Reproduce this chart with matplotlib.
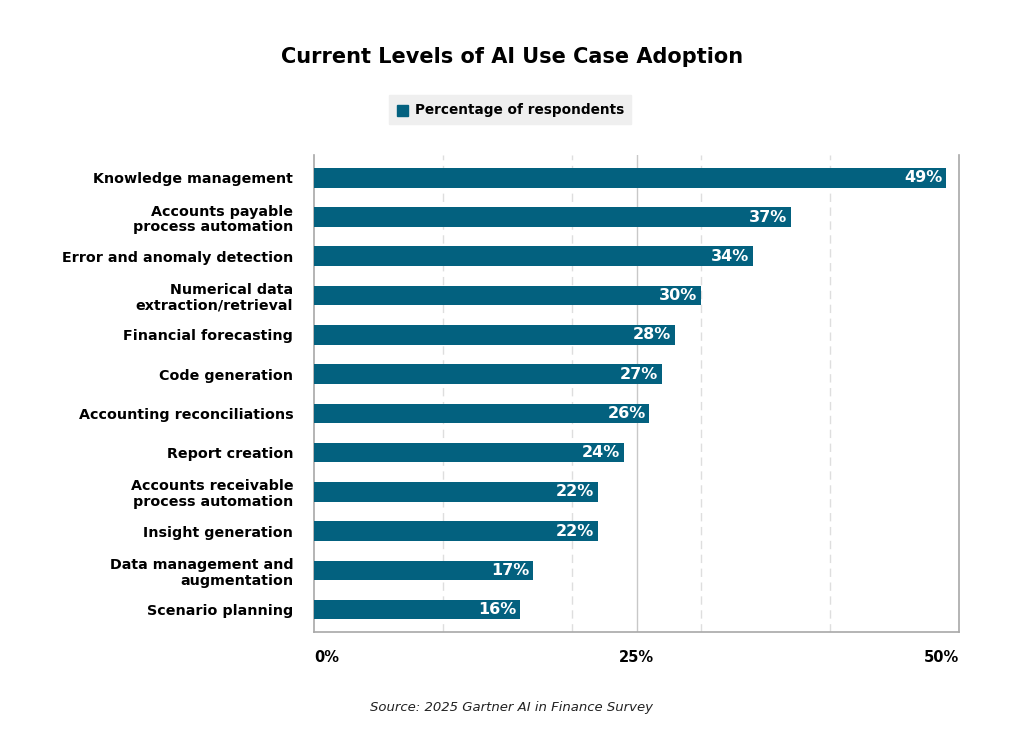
import matplotlib
matplotlib.use("Agg")
import matplotlib.pyplot as plt
from matplotlib.patches import Rectangle

categories = [
    "Knowledge management",
    "Accounts payable\nprocess automation",
    "Error and anomaly detection",
    "Numerical data\nextraction/retrieval",
    "Financial forecasting",
    "Code generation",
    "Accounting reconciliations",
    "Report creation",
    "Accounts receivable\nprocess automation",
    "Insight generation",
    "Data management and\naugmentation",
    "Scenario planning",
]
values = [49, 37, 34, 30, 28, 27, 26, 24, 22, 22, 17, 16]
tick_values = [0, 25, 50]
tick_labels = ["0%", "25%", "50%"]

bar_color = "#03617f"
plt.rcParams["font.family"] = ["DejaVu Sans"]

fig = plt.figure(figsize=(10.24, 7.42), dpi=100)
ax = fig.add_axes([314 / 1024, 1 - 632 / 742, 645 / 1024, 477 / 742])

y = list(range(len(categories)))
ax.barh(y, values, height=0.5, color=bar_color, zorder=3)
for yi, v in zip(y, values):
    ax.text(v - 0.3, yi, f"{v}%", ha="right", va="center", color="white",
            fontsize=11.5, fontweight="bold", zorder=4)

ax.set_xlim(0, 50)
ax.set_ylim(len(categories) - 0.43, -0.58)
ax.set_yticks(y)
ax.set_yticklabels(categories, fontsize=10.3, fontweight="bold", linespacing=1.15)
ax.tick_params(axis="y", length=0, pad=15)

# x tick labels drawn below the axis
ax.set_xticks([])
for t, lab in zip(tick_values, tick_labels):
    ha = "left" if t == 0 else ("right" if t == 50 else "center")
    ax.text(t, len(categories) + 0.22, lab, ha=ha, va="center", fontsize=10.5,
            fontweight="bold")

# grid lines
for g in [10, 20, 30, 40]:
    ax.axvline(g, color="#dedede", lw=1, ls=(0, (6, 4)), zorder=1)
ax.axvline(25, color="#c8c8c8", lw=1, zorder=1)

ax.spines["top"].set_visible(False)
for side in ["left", "right", "bottom"]:
    ax.spines[side].set_color("#a8a8a8")
    ax.spines[side].set_linewidth(1.2)

fig.text(512 / 1024, 1 - 57 / 742, "Current Levels of AI Use Case Adoption",
         ha="center", va="center", fontsize=15, fontweight="bold")

# legend
fig.patches.append(Rectangle((389 / 1024, 1 - 124 / 742), 242 / 1024, 29 / 742,
                             transform=fig.transFigure, color="#efefef", zorder=0))
fig.patches.append(Rectangle((397 / 1024, 1 - 116 / 742), 11 / 1024, 11 / 742,
                             transform=fig.transFigure, color=bar_color, zorder=1))
fig.text(415 / 1024, 1 - 110 / 742, "Percentage of respondents", ha="left",
         va="center", fontsize=9.8, fontweight="bold")

fig.text(512 / 1024, 1 - 707 / 742, "Source: 2025 Gartner AI in Finance Survey",
         ha="center", va="center", fontsize=9.5, style="italic", color="#222222")

fig.savefig("out.png", dpi=100)
